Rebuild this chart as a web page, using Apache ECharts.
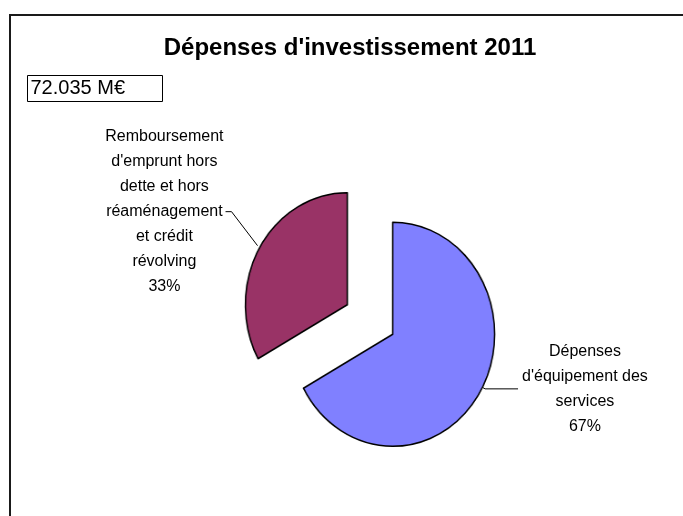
<!DOCTYPE html>
<html>
<head>
<meta charset="utf-8">
<script src="https://cdn.jsdelivr.net/npm/echarts@6/dist/echarts.min.js"></script>
<style>
  html, body { margin: 0; padding: 0; background: #ffffff; }
  #stage { position: relative; width: 683px; height: 516px; overflow: hidden; background: #ffffff; }
  /* plot area is stretched: the pie is drawn wider and squeezed horizontally */
  #pies { position: absolute; left: 0; top: 0; width: 751px; height: 516px;
          transform: scaleX(0.91); transform-origin: 0 0; }
  #chart { position: absolute; left: 0; top: 0; width: 683px; height: 516px; }
</style>
</head>
<body>
<div id="stage">
  <div id="pies"></div>
  <div id="chart"></div>
</div>
<script>
// Investment spending 2011, split by type
const chartTitle = "Dépenses d'investissement 2011";
const totalLabel = '72.035 M€';
const categories = [
  "Dépenses\nd'équipement des\nservices",
  "Remboursement\nd'emprunt hors\ndette et hors\nréaménagement\net crédit\nrévolving"
];
const shares = [67, 33];
const sliceColors = ['#8080FF', '#993366'];

const FONT = "'Liberation Sans', Arial, Helvetica, sans-serif";
const squeeze = 0.91;          // horizontal squeeze of the plot area
const baseCenter = [370, 319.5];
const pieRadius = 112;
const explode = 29;

const total = shares.reduce((a, b) => a + b, 0);

// Unit vector from the pie centre to the middle of slice i (clockwise from 12 o'clock)
function midDirection(i) {
  const before = shares.slice(0, i).reduce((a, b) => a + b, 0);
  const mid = (before + shares[i] / 2) / total * 2 * Math.PI;
  return [Math.sin(mid), -Math.cos(mid)];
}

// Exploded centre of slice i in the unsqueezed pie space
function explodedCenter(i) {
  const d = midDirection(i);
  return [baseCenter[0] / squeeze + d[0] * explode, baseCenter[1] + d[1] * explode];
}

function pieData(i, visible) {
  return categories.map((name, j) => ({
    name: name,
    value: shares[j],
    itemStyle: (visible && j === i)
      ? { color: sliceColors[j], borderColor: '#000', borderWidth: 1.6 }
      : { color: 'transparent', borderWidth: 0 },
    label: { show: !visible && j === i },
    labelLine: { show: !visible && j === i }
  }));
}

// ---- slices (squeezed layer) ----
const pieChart = echarts.init(document.getElementById('pies'), null, { renderer: 'canvas' });
pieChart.setOption({
  animation: false,
  series: shares.map((_, i) => ({
    type: 'pie',
    center: explodedCenter(i),
    radius: pieRadius,
    startAngle: 90,
    clockwise: true,
    silent: true,
    emphasis: { disabled: true },
    label: { show: false },
    labelLine: { show: false },
    data: pieData(i, true)
  }))
});

// ---- title, frame, total box and slice labels (unsqueezed layer) ----
function centeredLines(p) {
  const text = p.name + '\n' + Math.round(p.percent) + '%';
  return text.split('\n').map(s => '{c|' + s + '}').join('\n');
}

const labelRich = {
  c: { align: 'center', fontFamily: FONT, fontSize: 16, lineHeight: 25, color: '#000' }
};

// radius of the squeezed outline along a slice's mid-angle
function edgeRadius(i) {
  const d = midDirection(i);
  const rx = pieRadius * squeeze, ry = pieRadius;
  return 1 / Math.sqrt(Math.pow(d[0] / rx, 2) + Math.pow(d[1] / ry, 2));
}

const labelSeries = shares.map((_, i) => {
  const c = explodedCenter(i);
  const s = {
    type: 'pie',
    center: [c[0] * squeeze, c[1]],
    radius: edgeRadius(i),
    startAngle: 90,
    clockwise: true,
    avoidLabelOverlap: false,
    percentPrecision: 0,
    silent: true,
    emphasis: { disabled: true },
    label: {
      position: 'outside',
      formatter: centeredLines,
      rich: labelRich,
      distanceToLabelLine: 4
    },
    labelLine: {
      length: 3,
      length2: 33,
      lineStyle: { color: '#000', width: 1 }
    },
    data: pieData(i, false)
  };
  if (i === 1) {
    // this label sits up-left of its slice with a bent leader line
    s.labelLayout = function (params) {
      if (params.dataIndex !== i || !params.labelLinePoints) return {};
      const p0 = params.labelLinePoints[0];
      const start = [p0[0], p0[1] - 6];
      const elbow = [start[0] - 26, start[1] - 34];
      const end = [elbow[0] - 6, elbow[1]];
      return {
        x: end[0] - 2,
        y: end[1],
        align: 'right',
        verticalAlign: 'middle',
        labelLinePoints: [start, elbow, end]
      };
    };
  }
  return s;
});

const chart = echarts.init(document.getElementById('chart'), null, { renderer: 'canvas' });
chart.setOption({
  backgroundColor: 'transparent',
  animation: false,
  title: {
    text: chartTitle,
    left: 350,
    top: 36,
    padding: 0,
    textAlign: 'center',
    textStyle: { fontFamily: FONT, fontSize: 24, fontWeight: 'bold', color: '#000' }
  },
  graphic: [
    {
      type: 'rect',
      z: 0,
      shape: { x: 10, y: 15, width: 700, height: 520 },
      style: { fill: null, stroke: '#1a1a1a', lineWidth: 2 }
    },
    {
      type: 'group',
      left: 27,
      top: 75,
      children: [
        {
          type: 'rect',
          shape: { x: 0, y: 0, width: 135, height: 26 },
          style: { fill: '#fff', stroke: '#000', lineWidth: 1 }
        },
        {
          type: 'text',
          x: 3,
          y: 13,
          style: { text: totalLabel, fontFamily: FONT, fontSize: 20, fill: '#000', verticalAlign: 'middle' }
        }
      ]
    }
  ],
  series: labelSeries
});
</script>
</body>
</html>
